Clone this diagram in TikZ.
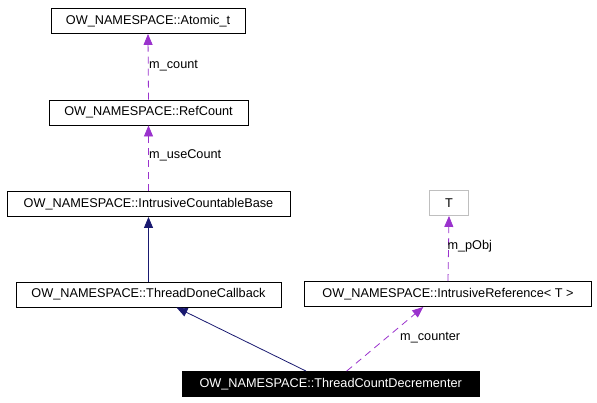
\documentclass[tikz,border=0pt]{standalone}
\usepackage{fontspec}
\setmainfont{Liberation Sans}
\usetikzlibrary{arrows.meta}
\definecolor{inhcol}{HTML}{191970}
\definecolor{usecol}{HTML}{9A32CD}

\begin{document}
\begin{tikzpicture}[x=1pt, y=-1pt, font=\fontsize{12.7}{15}\selectfont,
	cls/.style={draw, rectangle, inner sep=0pt, minimum height=25pt, line width=0.9pt},
	inh/.style={draw=inhcol, line width=0.8pt, -{Triangle[length=11pt, width=9pt]}, inhcol},
	use/.style={draw=usecol, line width=0.8pt, dash pattern=on 7pt off 5pt, -{Triangle[length=11pt, width=9pt]}, usecol},
	lbl/.style={anchor=west, inner sep=0pt}]
	\useasboundingbox (0,0) rectangle (597,403);
	\node[cls, minimum width=194pt] (atomic) at (148,21) {OW\_NAMESPACE::Atomic\_t};
	\node[cls, minimum width=199pt] (refcount) at (148.5,112.5) {OW\_NAMESPACE::RefCount};
	\node[cls, minimum width=283pt] (countable) at (148.5,204) {OW\_NAMESPACE::IntrusiveCountableBase};
	\node[cls, minimum width=265pt] (donecb) at (148.5,294.5) {OW\_NAMESPACE::ThreadDoneCallback};
	\node[cls, draw=gray!50, minimum width=39pt] (tparam) at (449,203) {T};
	\node[cls, minimum width=287pt] (intref) at (448,294) {OW\_NAMESPACE::IntrusiveReference< T >};
	\node[cls, fill=black, text=white, minimum width=297pt] (decr) at (330.7,384) {OW\_NAMESPACE::ThreadCountDecrementer};
	\draw[use] (refcount.north) -- (atomic.south);
	\draw[use] (countable.north) -- (refcount.south);
	\draw[inh] (donecb.north) -- (countable.south);
	\draw[use] (intref.north) -- (tparam.south);
	\draw[inh] ([xshift=-24.7pt]decr.north) -- ([xshift=28pt]donecb.south);
	\draw[use] ([xshift=16pt]decr.north) -- ([xshift=-24.7pt]intref.south);
	\node[lbl] (lcount) at (149,65.7) {m\_count};
	\node[lbl] (lusecount) at (149,155.3) {m\_useCount};
	\node[lbl] (lpobj) at (447.3,246.7) {m\_pObj};
	\node[lbl] (lcounter) at (400,337.3) {m\_counter};
\end{tikzpicture}
\end{document}
